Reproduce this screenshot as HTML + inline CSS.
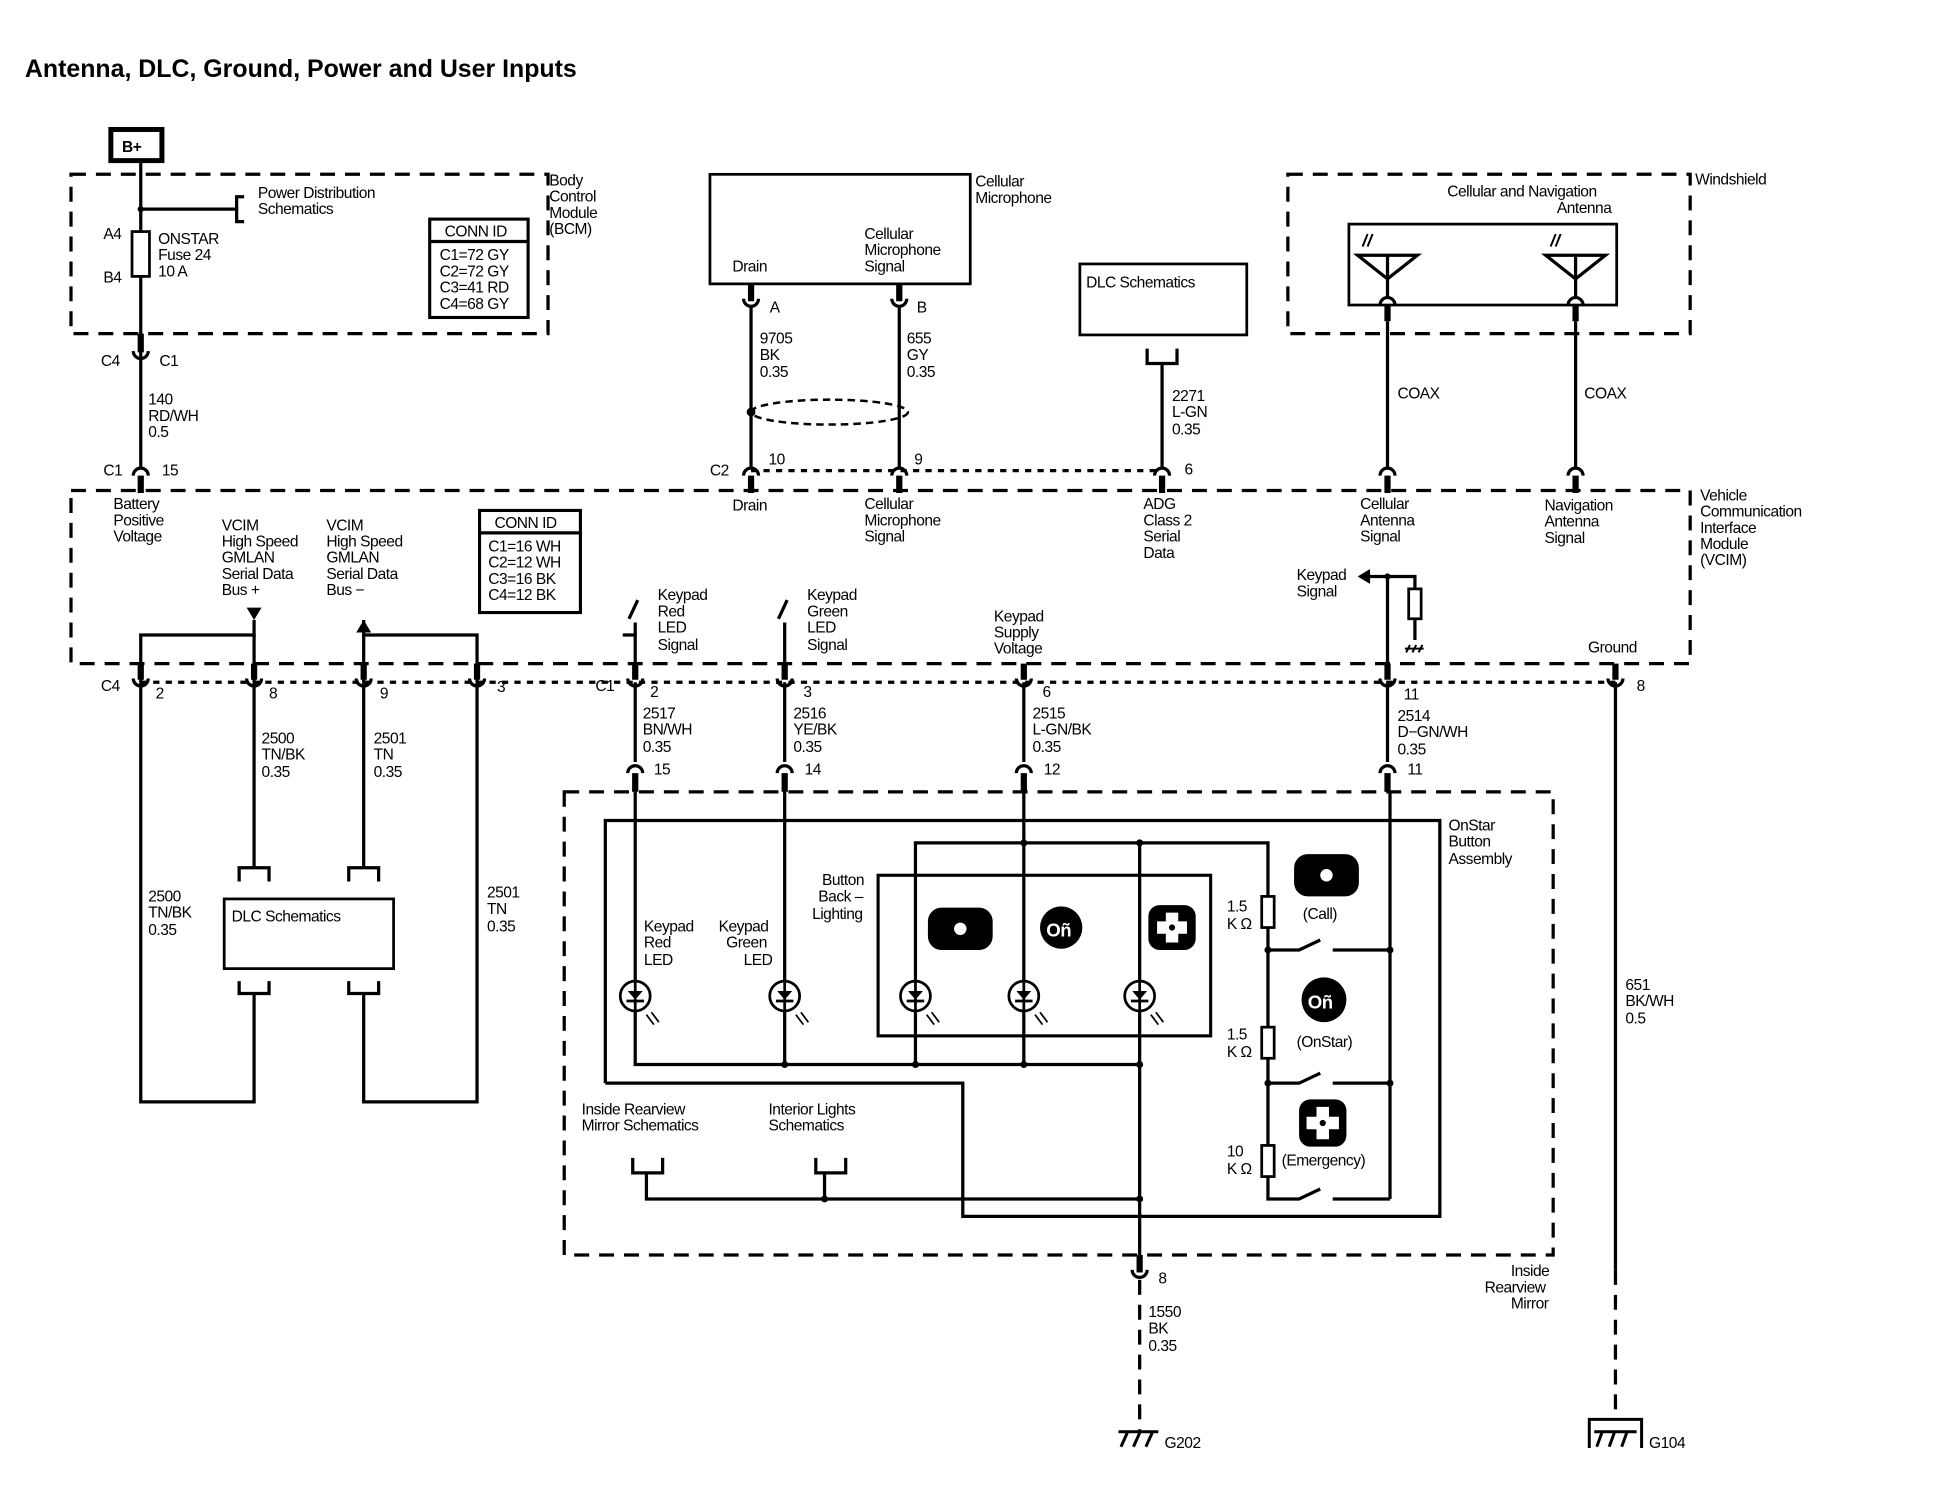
<!DOCTYPE html>
<html><head><meta charset="utf-8"><style>
html,body{margin:0;padding:0;background:#fff;}
svg{display:block;}
text{font-family:"Liberation Sans",sans-serif;font-size:12.5px;fill:#000;letter-spacing:-0.4px;}
.t{font-weight:bold;font-size:20px;letter-spacing:0;}
.w{stroke:#000;stroke-width:2.6;fill:none;}
.d{stroke:#000;stroke-width:2.6;fill:none;stroke-dasharray:12 8;}
.ds{stroke:#000;stroke-width:2.6;fill:none;stroke-dasharray:5 5;}
.b{stroke:#000;stroke-width:2.2;fill:#fff;}
</style></head><body>
<svg width="1948" height="1504" viewBox="0 0 1564 1208" preserveAspectRatio="none" xmlns="http://www.w3.org/2000/svg">
<text x="20" y="62" class="t">Antenna, DLC, Ground, Power and User Inputs</text>

<!-- B+ -->
<rect x="89" y="104" width="41" height="25" fill="#fff" stroke="#000" stroke-width="4"/>
<text x="98" y="122" font-weight="bold">B+</text>

<!-- BCM -->
<path class="d" d="M57 140 H440 V268 H57 Z"/>
<text x="441" y="149">Body</text><text x="441" y="162">Control</text><text x="441" y="175">Module</text><text x="441" y="188">(BCM)</text>
<path class="w" d="M113 130 V375"/>
<circle cx="113" cy="168" r="2.5"/>
<path class="w" d="M113 168 H190 M196 158 H190 V178 H196"/>
<text x="207" y="159">Power Distribution</text><text x="207" y="172">Schematics</text>
<rect x="106" y="186" width="14" height="36" class="b"/>
<text x="83" y="192">A4</text><text x="83" y="227">B4</text>
<text x="127" y="196">ONSTAR</text><text x="127" y="209">Fuse 24</text><text x="127" y="222">10 A</text>
<rect x="345" y="176" width="79" height="79" fill="#fff" stroke="#000" stroke-width="2.5"/>
<path class="w" d="M345 194 H424"/>
<text x="357" y="190">CONN ID</text>
<text x="353" y="209">C1=72 GY</text><text x="353" y="222">C2=72 GY</text><text x="353" y="235">C3=41 RD</text><text x="353" y="248">C4=68 GY</text>
<path class="w" d="M107 282 a6 6 0 0 0 12 0" stroke-width="3"/>
<path d="M113 268 V283" stroke="#000" stroke-width="5"/>
<text x="81" y="294">C4</text><text x="128" y="294">C1</text>
<text x="119" y="325">140</text><text x="119" y="338">RD/WH</text><text x="119" y="351">0.5</text>
<path class="w" d="M107 382 a6 6 0 0 1 12 0" stroke-width="3"/>
<path d="M113 382 V396" stroke="#000" stroke-width="5"/>
<text x="83" y="382">C1</text><text x="130" y="382">15</text>

<!-- VCIM box -->
<path class="d" d="M57 394 H1357 V533 H57 Z"/>
<text x="1365" y="402">Vehicle</text><text x="1365" y="415">Communication</text><text x="1365" y="428">Interface</text><text x="1365" y="441">Module</text><text x="1365" y="454">(VCIM)</text>
<text x="91" y="409">Battery</text><text x="91" y="422">Positive</text><text x="91" y="435">Voltage</text>
<text x="178" y="426">VCIM</text><text x="178" y="439">High Speed</text><text x="178" y="452">GMLAN</text><text x="178" y="465">Serial Data</text><text x="178" y="478">Bus +</text>
<text x="262" y="426">VCIM</text><text x="262" y="439">High Speed</text><text x="262" y="452">GMLAN</text><text x="262" y="465">Serial Data</text><text x="262" y="478">Bus −</text>
<rect x="385" y="410" width="81" height="82" fill="#fff" stroke="#000" stroke-width="2.5"/>
<path class="w" d="M385 428 H466"/>
<text x="397" y="424">CONN ID</text>
<text x="392" y="443">C1=16 WH</text><text x="392" y="456">C2=12 WH</text><text x="392" y="469">C3=16 BK</text><text x="392" y="482">C4=12 BK</text>

<!-- GMLAN lines -->
<path class="w" d="M113 548 V510 H204 V498 M292 498 V510 H383 V548"/>
<path d="M198 488 H210 L204 498 Z"/>
<path d="M286 508 H298 L292 498 Z"/>
<path class="w" d="M204 510 V548 M292 510 V548"/>
<path class="ds" d="M113 548 H1297" stroke-width="2"/>
<g stroke-width="3">
<path class="w" d="M107 545 a6 6 0 0 0 12 0 M198 545 a6 6 0 0 0 12 0 M286 545 a6 6 0 0 0 12 0 M377 545 a6 6 0 0 0 12 0 M504 545 a6 6 0 0 0 12 0 M624 545 a6 6 0 0 0 12 0 M816 545 a6 6 0 0 0 12 0 M1108 545 a6 6 0 0 0 12 0 M1291 545 a6 6 0 0 0 12 0"/>
</g>
<path d="M113 533 V546 M204 533 V546 M292 533 V546 M383 533 V546 M510 533 V546 M630 533 V546 M822 533 V546 M1114 533 V546 M1297 533 V546" stroke="#000" stroke-width="5"/>
<text x="81" y="555">C4</text><text x="125" y="561">2</text><text x="216" y="561">8</text><text x="305" y="561">9</text><text x="399" y="556">3</text>
<text x="478" y="555">C1</text><text x="522" y="560">2</text><text x="645" y="560">3</text><text x="837" y="560">6</text><text x="1127" y="562">11</text><text x="1314" y="555">8</text>

<!-- DLC bottom-left -->
<path class="w" d="M113 548 V885 H204 V798 M383 548 V885 H292 V798 M204 548 V697 M292 548 V697"/>
<path class="w" d="M192 708 V697 H216 V708 M280 708 V697 H304 V708 M192 788 V798 H216 V788 M280 788 V798 H304 V788"/>
<rect x="180" y="722" width="136" height="56" class="b" stroke-width="2.5"/>
<text x="186" y="740">DLC Schematics</text>
<text x="210" y="597">2500</text><text x="210" y="610">TN/BK</text><text x="210" y="624">0.35</text>
<text x="300" y="597">2501</text><text x="300" y="610">TN</text><text x="300" y="624">0.35</text>
<text x="119" y="724">2500</text><text x="119" y="737">TN/BK</text><text x="119" y="751">0.35</text>
<text x="391" y="721">2501</text><text x="391" y="734">TN</text><text x="391" y="748">0.35</text>

<!-- Cellular microphone -->
<rect x="570" y="140" width="209" height="88" class="b" stroke-width="2.5"/>
<text x="783" y="150">Cellular</text><text x="783" y="163">Microphone</text>
<text x="588" y="218">Drain</text>
<text x="694" y="192">Cellular</text><text x="694" y="205">Microphone</text><text x="694" y="218">Signal</text>
<path d="M603 228 V242 M722 228 V242" stroke="#000" stroke-width="5"/>
<path class="w" d="M597 240 a6 6 0 0 0 12 0 M716 240 a6 6 0 0 0 12 0" stroke-width="3"/>
<text x="618" y="251">A</text><text x="736" y="251">B</text>
<path class="w" d="M603 246 V375 M722 246 V375"/>
<text x="610" y="276">9705</text><text x="610" y="289">BK</text><text x="610" y="303">0.35</text>
<text x="728" y="276">655</text><text x="728" y="289">GY</text><text x="728" y="303">0.35</text>
<ellipse cx="666" cy="331" rx="63" ry="10" fill="none" stroke="#000" stroke-width="2" stroke-dasharray="6 4"/>
<circle cx="603" cy="331" r="3.5"/>
<path class="ds" d="M603 378 H933" stroke-width="2"/>
<path class="w" d="M597 382 a6 6 0 0 1 12 0 M716 382 a6 6 0 0 1 12 0 M927 382 a6 6 0 0 1 12 0" stroke-width="3"/>
<path d="M603 382 V396 M722 382 V396 M933 382 V396" stroke="#000" stroke-width="5"/>
<text x="570" y="382">C2</text><text x="617" y="373">10</text><text x="734" y="373">9</text><text x="951" y="381">6</text>
<text x="588" y="410">Drain</text>
<text x="694" y="409">Cellular</text><text x="694" y="422">Microphone</text><text x="694" y="435">Signal</text>
<text x="918" y="409">ADG</text><text x="918" y="422">Class 2</text><text x="918" y="435">Serial</text><text x="918" y="448">Data</text>

<!-- DLC schematics top -->
<rect x="867" y="212" width="134" height="57" class="b" stroke-width="2.5"/>
<text x="872" y="231">DLC Schematics</text>
<path class="w" d="M921 280 V292 H945 V280 M933 292 V375"/>
<text x="941" y="322">2271</text><text x="941" y="335">L-GN</text><text x="941" y="349">0.35</text>

<!-- Windshield -->
<path class="d" d="M1034 140 H1357 V268 H1034 Z"/>
<text x="1361" y="148">Windshield</text>
<text x="1162" y="158">Cellular and Navigation</text><text x="1250" y="171">Antenna</text>
<rect x="1083" y="180" width="215" height="65" class="b" stroke-width="2.5"/>
<g class="w" stroke-width="2.4">
<path d="M1090 205 H1138 L1114 224 Z M1114 205 V238 M1241 205 H1289 L1265 224 Z M1265 205 V238"/>
<path d="M1108 245 a6 6 0 0 1 12 0 M1259 245 a6 6 0 0 1 12 0"/>
<path d="M1094 198 L1098 188 M1098 198 L1102 188 M1245 198 L1249 188 M1249 198 L1253 188" stroke-width="1.6"/>
</g>
<path d="M1114 245 V258 M1265 245 V258" stroke="#000" stroke-width="5"/>
<path class="w" d="M1114 258 V375 M1265 258 V375"/>
<text x="1122" y="320">COAX</text><text x="1272" y="320">COAX</text>
<path class="w" d="M1108 382 a6 6 0 0 1 12 0 M1259 382 a6 6 0 0 1 12 0" stroke-width="3"/>
<path d="M1114 382 V396 M1265 382 V396" stroke="#000" stroke-width="5"/>
<text x="1092" y="409">Cellular</text><text x="1092" y="422">Antenna</text><text x="1092" y="435">Signal</text>
<text x="1240" y="410">Navigation</text><text x="1240" y="423">Antenna</text><text x="1240" y="436">Signal</text>

<!-- Keypad signal -->
<path class="w" d="M1114 463 V533 M1099 463 H1136 V473 M1136 497 V514"/>
<circle cx="1114" cy="463" r="2.5"/>
<path d="M1090 463 L1100 457 V469 Z"/>
<rect x="1131" y="473" width="10" height="24" class="b"/>
<path d="M1128 521 H1143 M1129 524 L1132 518 M1134 524 L1137 518 M1139 524 L1142 518" stroke="#000" stroke-width="1.6"/>
<text x="1041" y="466">Keypad</text><text x="1041" y="479">Signal</text>
<text x="1275" y="524">Ground</text>

<!-- Keypad LED signals -->
<path class="w" d="M510 533 V510 L500 510 M505 497 L512 482 M630 533 V510 M625 497 L632 482"/>
<path class="w" d="M510 500 V510 M630 500 V510"/>
<text x="528" y="482">Keypad</text><text x="528" y="495">Red</text><text x="528" y="508">LED</text><text x="528" y="522">Signal</text>
<text x="648" y="482">Keypad</text><text x="648" y="495">Green</text><text x="648" y="508">LED</text><text x="648" y="522">Signal</text>
<text x="798" y="499">Keypad</text><text x="798" y="512">Supply</text><text x="798" y="525">Voltage</text>

<!-- wires to mirror -->
<path class="w" d="M510 548 V612 M630 548 V612 M822 548 V612 M1114 548 V612 M1297 548 V1020"/>
<text x="516" y="577">2517</text><text x="516" y="590">BN/WH</text><text x="516" y="604">0.35</text>
<text x="637" y="577">2516</text><text x="637" y="590">YE/BK</text><text x="637" y="604">0.35</text>
<text x="829" y="577">2515</text><text x="829" y="590">L-GN/BK</text><text x="829" y="604">0.35</text>
<text x="1122" y="579">2514</text><text x="1122" y="592">D−GN/WH</text><text x="1122" y="606">0.35</text>
<path class="w" d="M504 621 a6 6 0 0 1 12 0 M624 621 a6 6 0 0 1 12 0 M816 621 a6 6 0 0 1 12 0 M1108 621 a6 6 0 0 1 12 0" stroke-width="3"/>
<path d="M510 621 V636 M630 621 V636 M822 621 V636 M1114 621 V636" stroke="#000" stroke-width="5"/>
<text x="525" y="622">15</text><text x="646" y="622">14</text><text x="838" y="622">12</text><text x="1130" y="622">11</text>
<text x="1305" y="795">651</text><text x="1305" y="808">BK/WH</text><text x="1305" y="822">0.5</text>

<!-- Inside rearview mirror -->
<path class="d" d="M453 636 H1247 V1008 H453 Z"/>
<text x="1213" y="1025">Inside</text><text x="1192" y="1038">Rearview</text><text x="1213" y="1051">Mirror</text>
<path class="w" d="M486 870 V659 H1156 V977 H773 V870 H486"/>
<text x="1163" y="667">OnStar</text><text x="1163" y="680">Button</text><text x="1163" y="694">Assembly</text>
<rect x="705" y="703" width="267" height="129" fill="none" stroke="#000" stroke-width="2.5"/>
<text x="660" y="711">Button</text><text x="657" y="724">Back –</text><text x="652" y="738">Lighting</text>
<text x="517" y="748">Keypad</text><text x="517" y="761">Red</text><text x="517" y="775">LED</text>
<text x="577" y="748">Keypad</text><text x="583" y="761">Green</text><text x="597" y="775">LED</text>
<path class="w" d="M510 636 V855 H915 M630 636 V855 M735 855 V677 H1018 V720 M822 636 V855 M915 677 V1022"/>
<g fill="#000"><circle cx="822" cy="677" r="2.8"/><circle cx="915" cy="677" r="2.8"/><circle cx="630" cy="855" r="2.8"/><circle cx="735" cy="855" r="2.8"/><circle cx="822" cy="855" r="2.8"/><circle cx="915" cy="855" r="2.8"/><circle cx="915" cy="963" r="2.8"/><circle cx="662" cy="963" r="2.8"/><circle cx="1018" cy="763" r="2.8"/><circle cx="1116" cy="763" r="2.8"/><circle cx="1018" cy="870" r="2.8"/><circle cx="1116" cy="870" r="2.8"/></g>
<!-- LEDs -->
<g stroke="#000" stroke-width="2.2" fill="#fff">
<circle cx="510" cy="800" r="12"/><circle cx="630" cy="800" r="12"/><circle cx="735" cy="800" r="12"/><circle cx="822" cy="800" r="12"/><circle cx="915" cy="800" r="12"/>
</g>
<g stroke="#000" stroke-width="2.2">
<path d="M510 788 V812 M503 804 H517 M630 788 V812 M623 804 H637 M735 788 V812 M728 804 H742 M822 788 V812 M815 804 H829 M915 788 V812 M908 804 H922"/>
<path d="M519 815 L525 823 M523 813 L529 821 M639 815 L645 823 M643 813 L649 821 M744 815 L750 823 M748 813 L754 821 M831 815 L837 823 M835 813 L841 821 M924 815 L930 823 M928 813 L934 821" stroke-width="1.4"/>
</g>
<path d="M504 796 H516 L510 803 Z M624 796 H636 L630 803 Z M729 796 H741 L735 803 Z M816 796 H828 L822 803 Z M909 796 H921 L915 803 Z"/>
<!-- buttons -->
<rect x="746" y="730" width="50" height="32" rx="10" stroke="#000" stroke-width="2"/>
<circle cx="771" cy="746" r="5" fill="#fff"/>
<circle cx="852" cy="745" r="17"/>
<text x="840" y="752" fill="#fff" style="fill:#fff;font-weight:bold;font-size:15px">Oñ</text>
<rect x="922" y="727" width="38" height="36" rx="9"/>
<path d="M936 733 H946 V740 H953 V750 H946 V757 H936 V750 H929 V740 H936 Z" fill="#fff"/>
<circle cx="941" cy="745" r="2.5"/>
<rect x="1039" y="686" width="52" height="34" rx="11"/>
<circle cx="1065" cy="703" r="5" fill="#fff"/>
<text x="1046" y="738">(Call)</text>
<circle cx="1063" cy="803" r="18"/>
<text x="1050" y="810" style="fill:#fff;font-weight:bold;font-size:15px">Oñ</text>
<text x="1041" y="841">(OnStar)</text>
<rect x="1043" y="883" width="38" height="38" rx="9"/>
<path d="M1057 889 H1067 V897 H1075 V907 H1067 V915 H1057 V907 H1049 V897 H1057 Z" fill="#fff"/>
<circle cx="1062" cy="902" r="2.5"/>
<text x="1029" y="936">(Emergency)</text>
<!-- resistor ladder -->
<path class="w" d="M1018 745 V825 M1018 850 V920 M1018 945 V963 H1043 L1060 955 M1070 963 H1116 M1018 763 H1043 L1060 755 M1070 763 H1116 M1018 870 H1043 L1060 862 M1070 870 H1116 M1116 636 V963"/>
<rect x="1013" y="720" width="10" height="25" class="b"/>
<rect x="1013" y="825" width="10" height="25" class="b"/>
<rect x="1013" y="920" width="10" height="25" class="b"/>
<text x="985" y="732">1.5</text><text x="985" y="746">K Ω</text>
<text x="985" y="835">1.5</text><text x="985" y="849">K Ω</text>
<text x="985" y="929">10</text><text x="985" y="943">K Ω</text>
<!-- schematic refs -->
<text x="467" y="895">Inside Rearview</text><text x="467" y="908">Mirror Schematics</text>
<text x="617" y="895">Interior Lights</text><text x="617" y="908">Schematics</text>
<path class="w" d="M508 930 V942 H532 V930 M519 942 V963 H915 M655 930 V942 H679 V930 M662 942 V963"/>
<!-- ground G202 -->
<path d="M915 1008 V1022" stroke="#000" stroke-width="5"/>
<path class="w" d="M909 1020 a6 6 0 0 0 12 0" stroke-width="3"/>
<text x="930" y="1031">8</text>
<text x="922" y="1058">1550</text><text x="922" y="1071">BK</text><text x="922" y="1085">0.35</text>
<path class="d" d="M915 1028 V1150"/>
<path d="M898 1150 H930 M900 1162 L905 1151 M910 1162 L915 1151 M920 1162 L925 1151" stroke="#000" stroke-width="2.4"/>
<text x="935" y="1163">G202</text>
<!-- G104 -->
<path class="d" d="M1297 1020 V1140"/>
<path d="M1276 1163 V1140 H1318 V1163 M1280 1150 H1314 M1282 1162 L1286 1151 M1292 1162 L1296 1151 M1302 1162 L1306 1151" stroke="#000" stroke-width="2.4" fill="none"/>
<text x="1324" y="1163">G104</text>
</svg>
</body></html>
